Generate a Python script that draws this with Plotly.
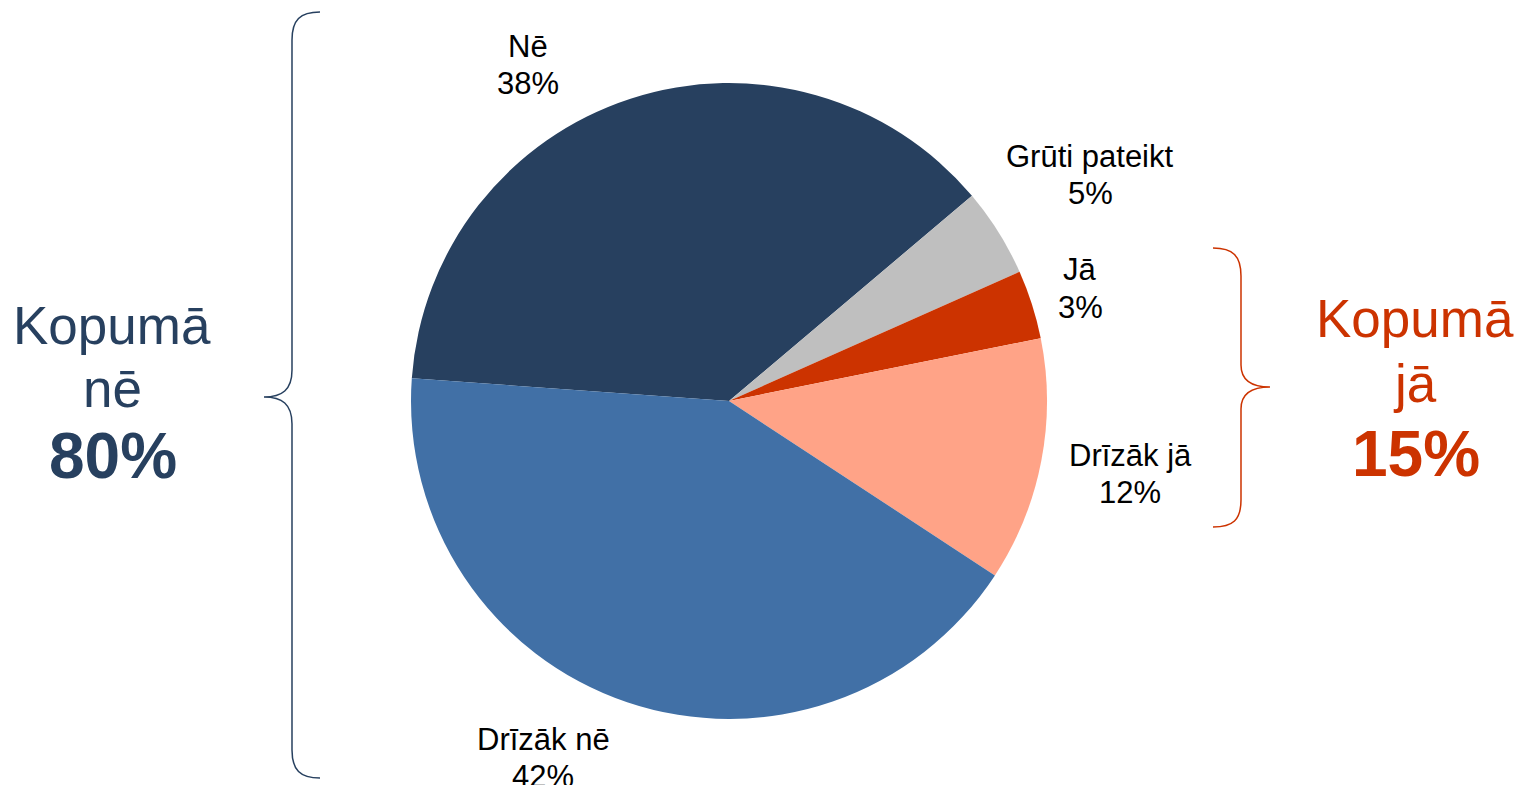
import plotly.graph_objects as go

W, H = 1516, 785
OFF = 0  # body margin removed below

labels = ["Nē", "Grūti pateikt", "Jā", "Drīzāk jā", "Drīzāk nē"]
values = [37.7, 4.5, 3.5, 12.4, 41.9]
shown_pct = [38, 5, 3, 12, 42]
colors = ["#27405F", "#BFBFBF", "#CC3300", "#FFA387", "#4170A6"]

total_no_label = ["Kopumā", "nē", "80%"]
total_yes_label = ["Kopumā", "jā", "15%"]

# label anchor positions (pixels: x center, y center of first line)
label_pos = [(528, 47), (1090, 157), (1080, 270), (1130, 455), (543, 739)]
LINE_GAP = 37


def px(x):
    return (x - OFF) / W


def py(y):
    return 1 - (y - OFF) / H


fig = go.Figure()
fig.add_trace(go.Pie(
    labels=labels,
    values=values,
    marker=dict(colors=colors, line=dict(width=0)),
    sort=False,
    direction="clockwise",
    rotation=-85.9,
    textinfo="none",
    hoverinfo="label+percent",
    showlegend=False,
    domain=dict(x=[px(411), px(1047)], y=[py(719), py(83)]),
))

annotations = []
lab_font = dict(family="Arial, Liberation Sans", size=31, color="#000000")
for lab, pct, (x, y) in zip(labels, shown_pct, label_pos):
    for txt, yy in ((lab, y), (f"{pct}%", y + LINE_GAP)):
        annotations.append(dict(
            x=px(x), y=py(yy), xref="paper", yref="paper",
            text=txt, showarrow=False,
            xanchor="center", yanchor="middle", align="center",
            font=lab_font,
        ))

navy = "#27405F"
orange = "#CC3300"

n_fixed = len(annotations)
annotations += [
    dict(x=px(112), y=py(345), text=total_no_label[0], font=dict(size=53, color=navy)),
    dict(x=px(112), y=py(408), text=total_no_label[1], font=dict(size=53, color=navy)),
    dict(x=px(113), y=py(480), text=f"<b>{total_no_label[2]}</b>", font=dict(size=64, color=navy)),
    dict(x=px(1415), y=py(338), text=total_yes_label[0], font=dict(size=53, color=orange)),
    dict(x=px(1415), y=py(403), text=total_yes_label[1], font=dict(size=53, color=orange)),
    dict(x=px(1416), y=py(478), text=f"<b>{total_yes_label[2]}</b>", font=dict(size=64, color=orange)),
]
for a in annotations[n_fixed:]:
    a.update(xref="paper", yref="paper", showarrow=False, xanchor="center", yanchor="bottom")
    a["font"]["family"] = "Arial, Liberation Sans"
    a["yshift"] = -a["font"]["size"] * 0.22


def path_from(points):
    out = []
    for cmd, coords in points:
        s = " ".join(f"{px(x):.5f},{py(y):.5f}" for x, y in coords)
        out.append(f"{cmd} {s}")
    return " ".join(out)


left_brace = path_from([
    ("M", [(320, 12)]),
    ("C", [(300, 12), (292, 20), (292, 40)]),
    ("L", [(292, 370)]),
    ("C", [(292, 390), (282, 397), (264, 397)]),
    ("C", [(282, 397), (292, 404), (292, 424)]),
    ("L", [(292, 750)]),
    ("C", [(292, 770), (300, 778), (320, 778)]),
])
right_brace = path_from([
    ("M", [(1213, 248)]),
    ("C", [(1233, 248), (1241, 256), (1241, 276)]),
    ("L", [(1241, 365)]),
    ("C", [(1241, 380), (1252, 387), (1270, 387)]),
    ("C", [(1252, 387), (1241, 394), (1241, 409)]),
    ("L", [(1241, 500)]),
    ("C", [(1241, 520), (1233, 527), (1213, 527)]),
])

shapes = [
    dict(type="path", xref="paper", yref="paper", path=left_brace,
         line=dict(color=navy, width=1.5)),
    dict(type="path", xref="paper", yref="paper", path=right_brace,
         line=dict(color=orange, width=1.5)),
]

fig.update_layout(
    width=W, height=H,
    margin=dict(l=0, r=0, t=0, b=0),
    paper_bgcolor="white", plot_bgcolor="white",
    annotations=annotations,
    shapes=shapes,
    font=dict(family="Arial, Liberation Sans"),
)

fig.write_html(
    "out.html",
    config={"displayModeBar": False},
    post_script="document.body.style.margin='0';document.body.style.overflow='hidden';",
)
